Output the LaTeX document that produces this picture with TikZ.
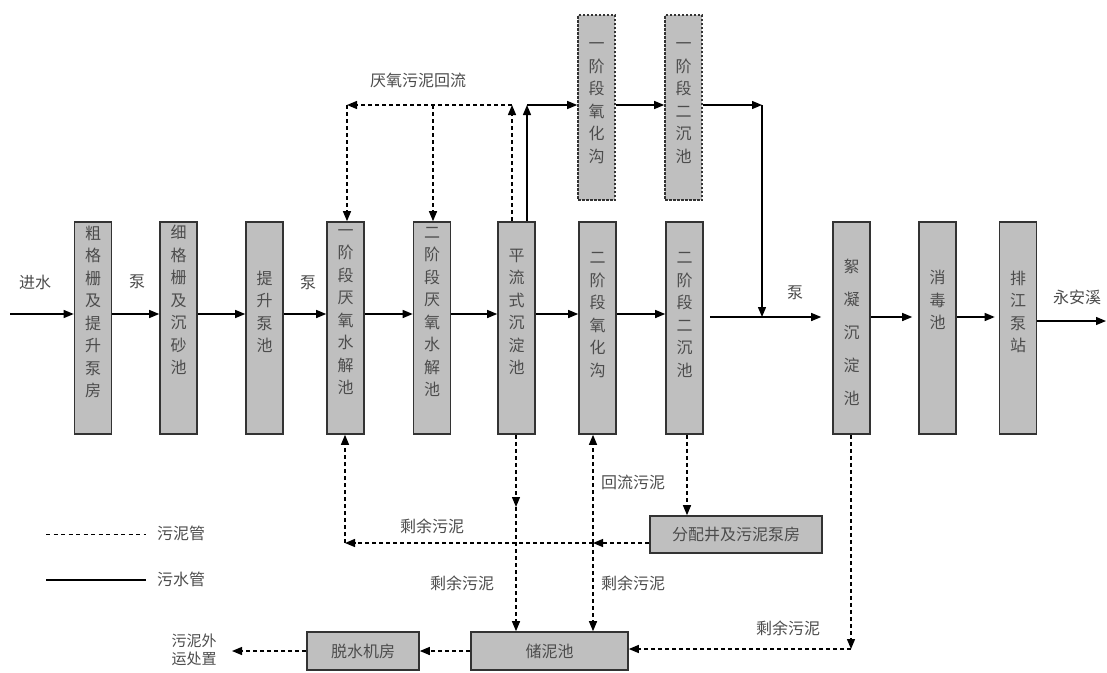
\documentclass[tikz,border=0pt]{standalone}
\usepackage{fontspec}
\setmainfont{Noto Sans CJK SC}
\usetikzlibrary{arrows.meta}

\begin{document}
\begin{tikzpicture}[x=1pt,y=-1pt]
  % Styles
  \tikzset{
    tank/.style={draw=black!80, fill=black!25, line width=1.6pt, minimum width=37pt, minimum height=212pt, inner sep=0pt},
    tankd/.style={tank, dash pattern=on 2.5pt off 1.5pt, minimum height=185pt},
    tankh/.style={tank, minimum height=37pt, text=black!70, font=\fontsize{16}{18}\selectfont},
    vt/.style={align=center, inner sep=0pt, text=black!70, font=\fontsize{16}{22.5}\selectfont, yshift=16pt},
    lbl/.style={inner sep=0pt, text=black!70, font=\fontsize{16}{20}\selectfont},
    sew/.style={line width=1.3pt, -{Triangle[length=10pt,width=8pt]}},
    sludge/.style={sew, dash pattern=on 4pt off 3pt},
  }

  \useasboundingbox (0,0) rectangle (1107,672);

  % Bassins
  \node[tank, label={[vt]center:{粗\\格\\栅\\及\\提\\升\\泵\\房}}] (b1) at (93,328) {};
  \node[tank, label={[vt, yshift=12pt]center:{细\\格\\栅\\及\\沉\\砂\\池}}] (b2) at (178.5,328) {};
  \node[tank, label={[vt]center:{提\\升\\泵\\池}}] (b3) at (264.5,328) {};
  \node[tank, label={[vt]center:{一\\阶\\段\\厌\\氧\\水\\解\\池}}] (b4) at (345.5,328) {};
  \node[tank, label={[vt]center:{二\\阶\\段\\厌\\氧\\水\\解\\池}}] (b5) at (432,328) {};
  \node[tank, label={[vt]center:{平\\流\\式\\沉\\淀\\池}}] (b6) at (516.5,328) {};
  \node[tank, label={[vt, yshift=-3pt]center:{二\\阶\\段\\氧\\化\\沟}}] (b7) at (597.5,328) {};
  \node[tank, label={[vt, yshift=-3pt]center:{二\\阶\\段\\二\\沉\\池}}] (b8) at (684.5,328) {};
  \node[tank, label={[vt, yshift=-20pt, font=\fontsize{16}{33}\selectfont]center:{絮\\凝\\沉\\淀\\池}}] (b9) at (851.5,328) {};
  \node[tank, label={[vt, yshift=12pt]center:{消\\毒\\池}}] (b10) at (937.5,328) {};
  \node[tank, label={[vt]center:{排\\江\\泵\\站}}] (b11) at (1018,328) {};

  \node[tankd, label={[vt, yshift=-11.5pt]center:{一\\阶\\段\\氧\\化\\沟}}] (t1) at (596.5,107.5) {};
  \node[tankd, label={[vt, yshift=-11.5pt]center:{一\\阶\\段\\二\\沉\\池}}] (t2) at (683.5,107.5) {};

  \node[tankh, minimum width=172pt] (fp) at (736,534.5) {分配井及污泥泵房};
  \node[tankh, minimum width=157pt, minimum height=38pt] (cn) at (549.5,651) {储泥池};
  \node[tankh, minimum width=112pt, minimum height=38pt] (ts) at (363,651) {脱水机房};

  % Points de passage
  \coordinate (inlet) at (10,314);
  \coordinate (row) at (0,314);
  \coordinate (row2) at (0,317);
  \coordinate (outlet) at (1106,321);
  \coordinate (up) at (527,105);
  \coordinate (dn) at (762,105);
  \coordinate (rr) at (512,105);
  \coordinate (rm) at (433,105);
  \coordinate (rl) at (347,105);
  \coordinate (jn) at (593,543);
  \coordinate (lc) at (345,543);
  \coordinate (m6) at (516,507);
  \coordinate (d8) at (687,500);
  \coordinate (rc) at (851,649);
  \coordinate (ex) at (232,651);

  % Eaux
  \draw[sew] (inlet) -- (b1.west |- inlet);
  \foreach \a/\b in {b1/b2, b2/b3, b3/b4, b4/b5, b5/b6, b6/b7, b7/b8}
    \draw[sew] (\a.east |- row) -- (\b.west |- row);
  \draw[sew, shorten <=6pt, shorten >=11pt] (b8.east |- row2) -- (b9.west |- row2);
  \draw[sew, shorten >=6pt] (b9.east |- row2) -- (b10.west |- row2);
  \draw[sew, shorten >=4pt] (b10.east |- row2) -- (b11.west |- row2);
  \draw[sew] (b11.east |- outlet) -- (outlet);

  \draw[sew] (b6.north -| up) -- (up);
  \draw[sew] (up) -- (t1.west |- up);
  \draw[sew] (t1.east |- up) -- (t2.west |- up);
  \draw[sew] (t2.east |- up) -- (dn);
  \draw[sew] (dn) -- (dn |- row2);

  % Boues
  \draw[sludge] (b6.north -| rr) -- (rr);
  \draw[sludge] (rr) -- (rl);
  \draw[sludge] (rl) -- (b4.north -| rl);
  \draw[sludge] (rm) -- (b5.north -| rm);

  \draw[sludge] (fp.west |- jn) -- (jn);
  \draw[sludge] (jn) -- (lc);
  \draw[sludge] (lc) -- (lc |- b4.south);
  \draw[sludge] (jn) -- (jn |- b7.south);
  \draw[sludge] (jn) -- (jn |- cn.north);
  \draw[sludge] (b6.south -| m6) -- (m6);
  \draw[sludge] (m6) -- (m6 |- cn.north);
  \draw[sludge] (b8.south -| d8) -- (fp.north -| d8);
  \draw[sludge] (b9.south -| rc) -- (rc);
  \draw[sludge] (rc) -- (cn.east |- rc);
  \draw[sludge] (cn.west) -- (ts.east);
  \draw[sludge] (ts.west) -- (ex);

  % Textes
  \node[lbl] (l1) at (35,282) {进水};
  \node[lbl] (l2) at (137,282) {泵};
  \node[lbl] (l3) at (308,283) {泵};
  \node[lbl] (l4) at (795,293) {泵};
  \node[lbl] (l5) at (1077,297) {永安溪};
  \node[lbl] (l6) at (418,80) {厌氧污泥回流};
  \node[lbl] (l7) at (432,526) {剩余污泥};
  \node[lbl] (l8) at (633,482) {回流污泥};
  \node[lbl] (l9) at (462,583) {剩余污泥};
  \node[lbl] (l10) at (633,583) {剩余污泥};
  \node[lbl] (l11) at (788,628) {剩余污泥};
  \node[lbl, align=center, anchor=north, font=\fontsize{15}{18}\selectfont] (l12) at (194,634) {污泥外\\运处置};

  % Légende
  \coordinate (lga) at (46,534);
  \coordinate (lgb) at (146,534);
  \coordinate (lgc) at (46,580);
  \coordinate (lgd) at (146,580);
  \draw[line width=1pt, dash pattern=on 4pt off 3.5pt] (lga) -- (lgb);
  \draw[line width=1.3pt] (lgc) -- (lgd);
  \node[lbl] (lg1) at (181,533) {污泥管};
  \node[lbl] (lg2) at (181,579) {污水管};

\end{tikzpicture}
\end{document}
